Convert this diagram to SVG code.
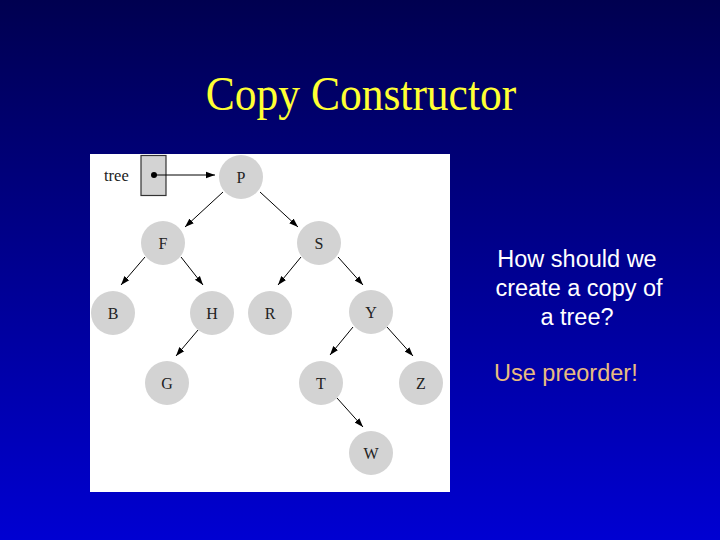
<svg xmlns="http://www.w3.org/2000/svg" width="720" height="540" viewBox="0 0 720 540">
<defs>
<linearGradient id="bg" x1="0" y1="0" x2="0" y2="1">
<stop offset="0" stop-color="#000050"/>
<stop offset="1" stop-color="#0000d2"/>
</linearGradient>
<marker id="ah" viewBox="0 0 10 10" refX="10" refY="5" markerWidth="9" markerHeight="9" markerUnits="userSpaceOnUse" orient="auto">
<path d="M0,1.5 L10,5 L0,8.5 Z" fill="#000"/>
</marker>
<style>
.node circle{fill:#d3d3d3}
.node text{font-family:"Liberation Serif",serif;font-size:16px;fill:#222;text-anchor:middle}
.edge{stroke:#000;stroke-width:1;fill:none;marker-end:url(#ah)}
.side{font-family:"Liberation Sans",Arial,sans-serif;font-size:23.5px;fill:#fff}
</style>
</defs>
<rect x="0" y="0" width="720" height="540" fill="url(#bg)"/>
<text transform="translate(361,110) scale(1,1.1)" x="0" y="0" font-family="'Liberation Serif',serif" font-size="43.5" fill="#ffff33" text-anchor="middle">Copy Constructor</text>
<rect x="90" y="154" width="360" height="338" fill="#fff"/>
<g id="pointer">
<text x="104" y="181" font-family="'Liberation Serif',serif" font-size="16.5" fill="#222">tree</text>
<rect x="141" y="155.5" width="25" height="40" fill="#d3d3d3" stroke="#333" stroke-width="1.2"/>
<circle cx="154" cy="175" r="3" fill="#000"/>
</g>
<g id="connectors">
<line class="edge" x1="154" y1="175" x2="215" y2="175"/>
<line class="edge" x1="223" y1="192" x2="185" y2="227"/>
<line class="edge" x1="260" y1="192" x2="298" y2="227"/>
<line class="edge" x1="145" y1="257" x2="121" y2="285"/>
<line class="edge" x1="181" y1="257" x2="203" y2="285"/>
<line class="edge" x1="301" y1="257" x2="278" y2="285"/>
<line class="edge" x1="338" y1="257" x2="363" y2="285"/>
<line class="edge" x1="198" y1="330" x2="176" y2="356"/>
<line class="edge" x1="353" y1="327" x2="330" y2="355"/>
<line class="edge" x1="387" y1="327" x2="413" y2="356"/>
<line class="edge" x1="337" y1="398" x2="363" y2="427"/>
</g>
<g id="P" class="node"><circle cx="241" cy="177" r="22"/><text x="241" y="183">P</text></g>
<g id="F" class="node"><circle cx="163" cy="243" r="22"/><text x="163" y="249">F</text></g>
<g id="S" class="node"><circle cx="319" cy="243" r="22"/><text x="319" y="249">S</text></g>
<g id="B" class="node"><circle cx="113" cy="313" r="22"/><text x="113" y="319">B</text></g>
<g id="H" class="node"><circle cx="212" cy="313" r="22"/><text x="212" y="319">H</text></g>
<g id="R" class="node"><circle cx="270" cy="313" r="22"/><text x="270" y="319">R</text></g>
<g id="Y" class="node"><circle cx="371" cy="312" r="22"/><text x="371" y="318">Y</text></g>
<g id="G" class="node"><circle cx="167" cy="383" r="22"/><text x="167" y="389">G</text></g>
<g id="T" class="node"><circle cx="321" cy="383" r="22"/><text x="321" y="389">T</text></g>
<g id="Z" class="node"><circle cx="421" cy="383" r="22"/><text x="421" y="389">Z</text></g>
<g id="W" class="node"><circle cx="371" cy="453" r="22"/><text x="371" y="459">W</text></g>
<text class="side" x="577" y="267" text-anchor="middle">How should we</text>
<text class="side" x="579" y="296" text-anchor="middle">create a copy of</text>
<text class="side" x="577" y="325" text-anchor="middle">a tree?</text>
<text class="side" x="494" y="381" style="fill:#e8bc80">Use preorder!</text>
</svg>
